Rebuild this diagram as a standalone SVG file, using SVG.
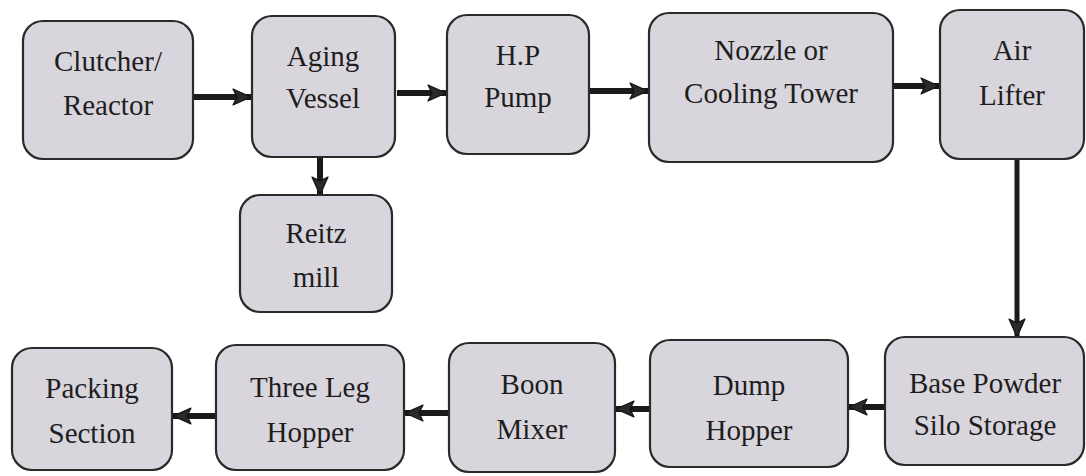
<svg xmlns="http://www.w3.org/2000/svg" width="1086" height="476" viewBox="0 0 1086 476">
<style>
.box{fill:#d9d5dd;stroke:#2a2a2a;stroke-width:2.2}
.t{font-family:'Liberation Serif','Times New Roman',serif;font-size:29px;fill:#1e1e1e;text-anchor:middle}
.ln{stroke:#1a1a1a;stroke-width:6;fill:none}
</style>
<defs>
<marker id="ah" viewBox="0 0 20 20" refX="19" refY="10" markerWidth="20" markerHeight="20" markerUnits="userSpaceOnUse" orient="auto">
<path d="M1,2 L19,10 L1,18 L5,10 Z" fill="#2a2a2a" stroke="#111" stroke-width="1.2" stroke-linejoin="round"/>
</marker>
</defs>
<rect width="1086" height="476" fill="#ffffff"/>
<g id="connectors">
<line class="ln" x1="193" y1="97" x2="251" y2="97" marker-end="url(#ah)"/>
<line class="ln" x1="397" y1="93" x2="446" y2="93" marker-end="url(#ah)"/>
<line class="ln" x1="589" y1="91" x2="648" y2="91" marker-end="url(#ah)"/>
<line class="ln" x1="893" y1="86" x2="939" y2="86" marker-end="url(#ah)"/>
<line class="ln" x1="320" y1="157" x2="320" y2="195" marker-end="url(#ah)"/>
<line class="ln" x1="1017" y1="159" x2="1017" y2="337" marker-end="url(#ah)" style="stroke-width:5"/>
<line class="ln" x1="885" y1="407" x2="849" y2="407" marker-end="url(#ah)"/>
<line class="ln" x1="650" y1="409" x2="616" y2="409" marker-end="url(#ah)"/>
<line class="ln" x1="449" y1="413" x2="405" y2="413" marker-end="url(#ah)"/>
<line class="ln" x1="216" y1="416" x2="173" y2="416" marker-end="url(#ah)"/>
</g>
<g id="clutcher"><rect class="box" x="23" y="21" width="170" height="138" rx="20"/><text class="t" x="108" y="71">Clutcher/</text><text class="t" x="108" y="115">Reactor</text></g>
<g id="aging"><rect class="box" x="252" y="16" width="143" height="141" rx="20"/><text class="t" x="323" y="66">Aging</text><text class="t" x="323" y="108">Vessel</text></g>
<g id="hppump"><rect class="box" x="447" y="15" width="142" height="139" rx="20"/><text class="t" x="518" y="65">H.P</text><text class="t" x="518" y="107">Pump</text></g>
<g id="nozzle"><rect class="box" x="649" y="13" width="244" height="149" rx="20"/><text class="t" x="771" y="60">Nozzle or</text><text class="t" x="771" y="103">Cooling Tower</text></g>
<g id="airlifter"><rect class="box" x="940" y="10" width="144" height="149" rx="20"/><text class="t" x="1012" y="60">Air</text><text class="t" x="1012" y="105">Lifter</text></g>
<g id="reitz"><rect class="box" x="240" y="195" width="152" height="117" rx="20"/><text class="t" x="316" y="243">Reitz</text><text class="t" x="316" y="287">mill</text></g>
<g id="base"><rect class="box" x="885" y="337" width="199" height="128" rx="20"/><text class="t" x="985" y="393">Base Powder</text><text class="t" x="985" y="435">Silo Storage</text></g>
<g id="dump"><rect class="box" x="650" y="340" width="198" height="127" rx="20"/><text class="t" x="749" y="395">Dump</text><text class="t" x="749" y="440">Hopper</text></g>
<g id="boon"><rect class="box" x="449" y="343" width="166" height="129" rx="20"/><text class="t" x="532" y="394">Boon</text><text class="t" x="532" y="439">Mixer</text></g>
<g id="threeleg"><rect class="box" x="216" y="345" width="188" height="125" rx="20"/><text class="t" x="310" y="397">Three Leg</text><text class="t" x="310" y="442">Hopper</text></g>
<g id="packing"><rect class="box" x="12" y="348" width="160" height="122" rx="20"/><text class="t" x="92" y="398">Packing</text><text class="t" x="92" y="443">Section</text></g>
</svg>
